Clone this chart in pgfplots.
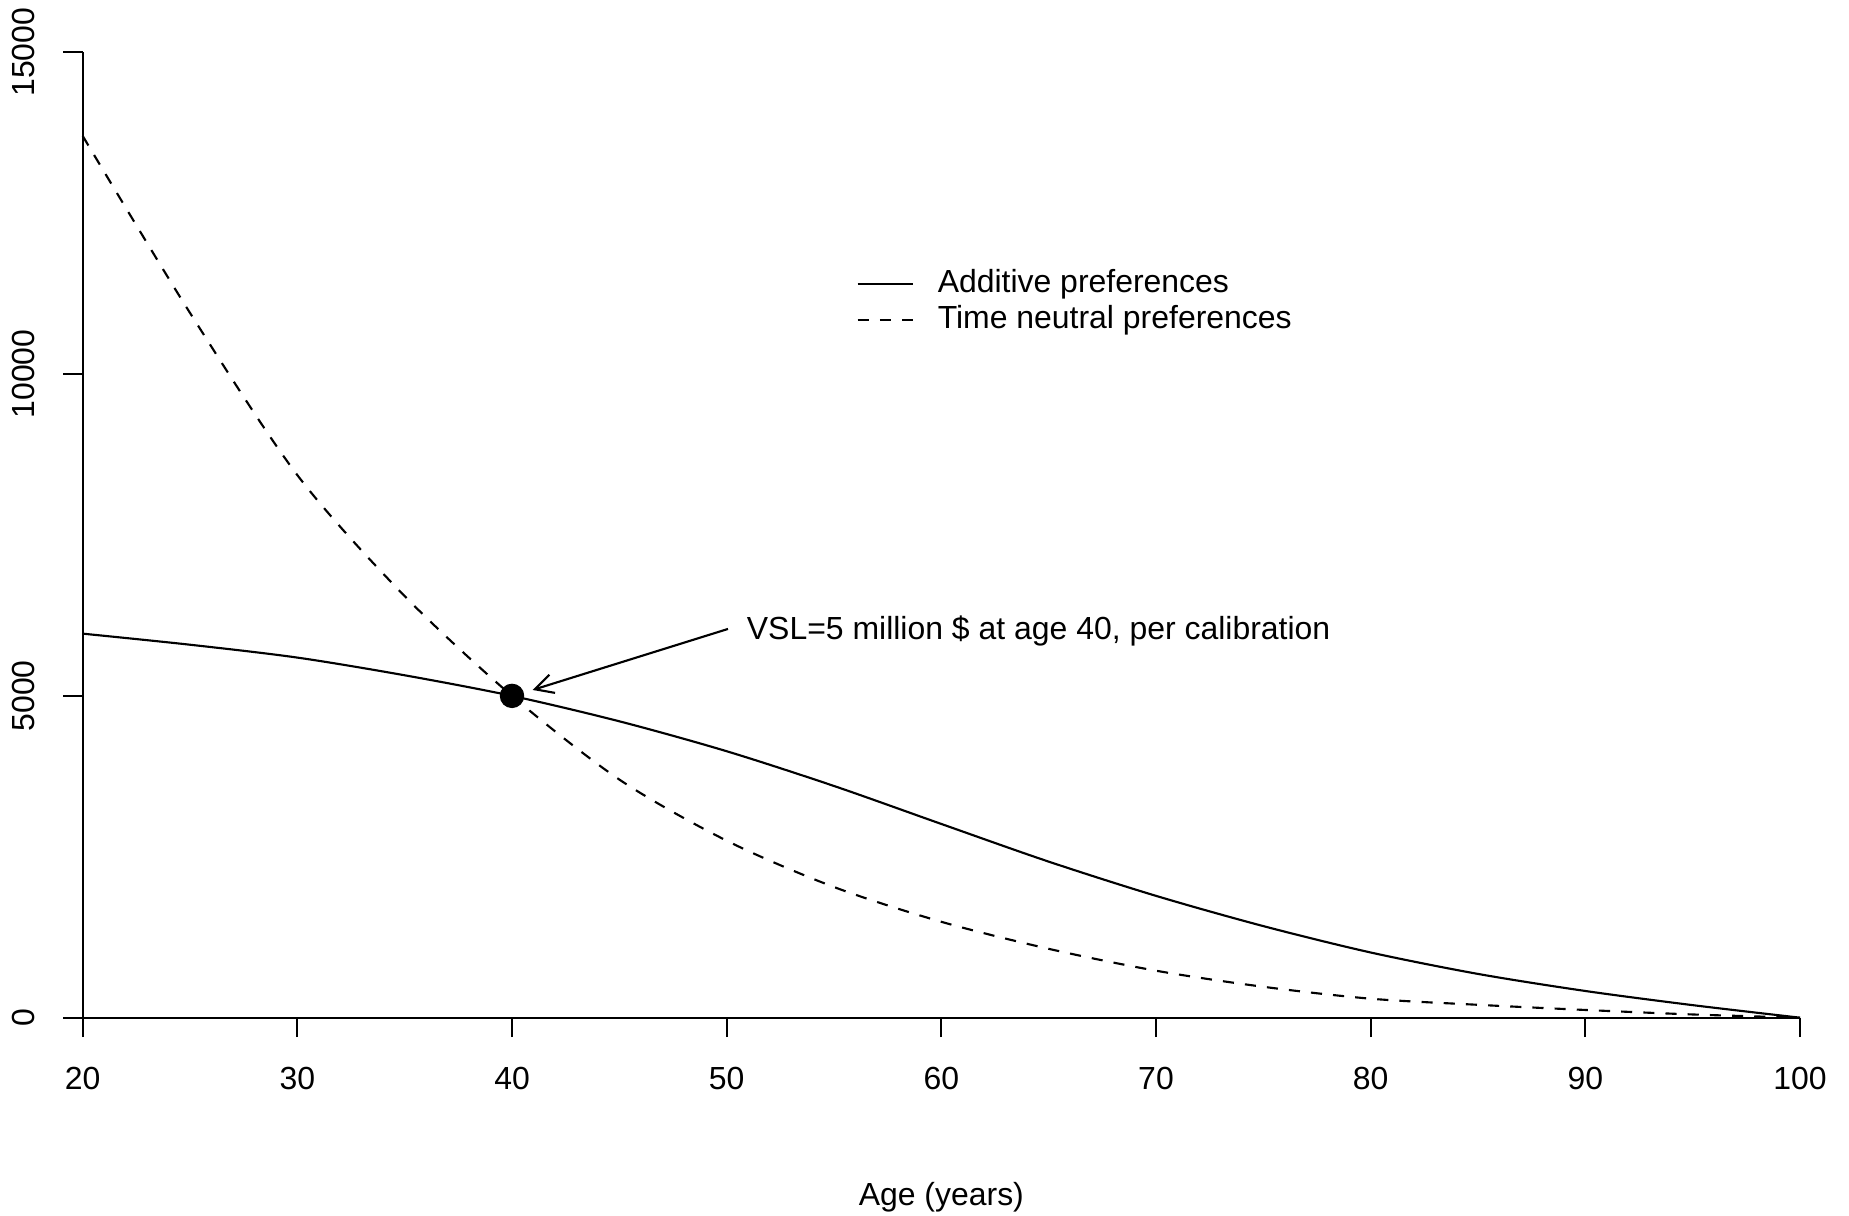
\documentclass[border=0pt]{standalone}
\usepackage{fontspec}
\setmainfont{Liberation Sans}
\usepackage{pgfplots}
\pgfplotsset{compat=1.18}
\usetikzlibrary{arrows.meta}
\pgfplotstableread{
age val
20 5967
25 5795
30 5595
35 5320
40 5000
45 4605
50 4140
55 3600
60 3010
65 2425
70 1893
75 1423
80 1013
85 680
90 415
95 195
100 0
}\additive
\pgfplotstableread{
age val
20 13700
25 10950
30 8430
35 6550
40 5000
45 3700
50 2750
55 2030
60 1490
65 1070
70 730
75 480
80 295
85 200
90 120
95 50
100 0
}\neutral
\begin{document}
\fontsize{12.78}{15.3}\selectfont
\begin{tikzpicture}
\useasboundingbox (0,0) rectangle (739.6pt,486.4pt);
\begin{axis}[
  at={(33.08pt,79.32pt)}, anchor=south west,
  scale only axis, width=686.92pt, height=386.16pt,
  xmin=20, xmax=100, ymin=0, ymax=15000,
  axis x line=bottom, axis y line=left,
  axis line style={-, line width=0.85pt},
  every tick/.style={black, line width=0.85pt},
  tick align=outside, major tick length=7.8pt,
  xtick={20,30,...,100}, ytick={0,5000,10000,15000},
  scaled y ticks=false,
  /pgf/number format/assume math mode=true,
  /pgf/number format/set thousands separator={},
  xticklabel style={anchor=north, inner sep=0pt},
  yticklabel style={rotate=90, anchor=south, inner sep=0pt},
  xticklabel shift=11.8pt,
  yticklabel shift=11.3pt,
  xlabel={Age (years)},
  xlabel style={at={(axis description cs:0.5,0)}, anchor=base, yshift=-75.3pt, inner sep=0pt},
  clip=false,
  legend style={draw=none, fill=none, at={(axis cs:56.03,11647)}, anchor=north west,
    inner sep=0pt, row sep=2.1pt, column sep=9.4pt,
    nodes={inner sep=0pt, text height=9.5pt, text depth=2.7pt}},
  legend image code/.code={\draw[#1] (0pt,0pt) -- (22.2pt,0pt);},
  legend cell align=left,
]
\addplot[black, line width=0.85pt, smooth, tension=0.5] table[x=age, y=val] {\additive};
\addlegendentry{Additive preferences}
\addplot[black, line width=0.85pt, smooth, tension=0.5, dash pattern=on 4.44pt off 4.44pt] table[x=age, y=val] {\neutral};
\addlegendentry{Time neutral preferences}
\addplot[only marks, mark=*, mark size=4.68pt, black, forget plot] coordinates {(40,5000)};
\draw[line width=0.85pt, -{Straight Barb[length=7.3pt, width=7.6pt]}] (axis cs:50.06,6040) -- (axis cs:40.96,5092);
\node[anchor=west, inner sep=0pt] at (axis cs:50.92,6010) {VSL=5 million \$ at age 40, per calibration};
\end{axis}
\end{tikzpicture}
\end{document}
